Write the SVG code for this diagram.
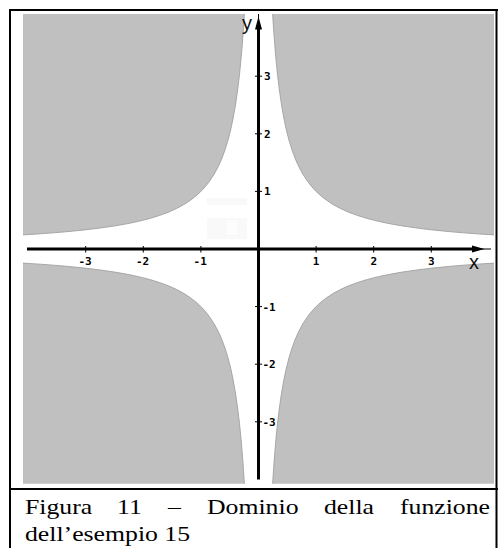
<svg xmlns="http://www.w3.org/2000/svg" width="498" height="548" viewBox="0 0 498 548">
  <style>
    .frame { stroke: #000; stroke-width: 2; fill: none; }
    .region { fill: #c0c0c0; stroke: #a0a0a0; stroke-width: 0.9; }
    .axis { stroke: #000; stroke-width: 3; fill: none; }
    .thin { stroke: #000; stroke-width: 1; fill: none; }
    .tick { stroke: #000; stroke-width: 1; }
    .tl { font-family: "DejaVu Sans Mono", "Liberation Mono", monospace; font-weight: bold; font-size: 11px; fill: #000; }
    .axl { font-family: "Liberation Sans", Arial, sans-serif; font-size: 20px; fill: #111; }
    .cap { font-family: "Liberation Serif", "Times New Roman", serif; font-size: 22px; fill: #000; }
  </style>
  <defs>
    <clipPath id="plotclip">
      <rect x="23" y="14" width="471" height="469.7"/>
    </clipPath>
    <path id="hyp" vector-effect="non-scaling-stroke" d="M0.2 5 L0.22 4.545 L0.24 4.167 L0.26 3.846 L0.28 3.571 L0.3 3.333 L0.33 3.030 L0.36 2.778 L0.4 2.5 L0.44 2.273 L0.48 2.083 L0.53 1.887 L0.58 1.724 L0.64 1.5625 L0.7 1.4286 L0.77 1.2987 L0.85 1.1765 L0.92 1.087 L1 1 L1.087 0.92 L1.1765 0.85 L1.2987 0.77 L1.4286 0.7 L1.5625 0.64 L1.724 0.58 L1.887 0.53 L2.083 0.48 L2.273 0.44 L2.5 0.4 L2.778 0.36 L3.030 0.33 L3.333 0.3 L3.571 0.28 L3.846 0.26 L4.167 0.24 L4.545 0.22 L5 0.2 L6 0.2 L6 6 L0.2 6 Z"/>
  </defs>

  <rect x="0" y="0" width="498" height="548" fill="#fff"/>

  <!-- plot: grey regions outside the domain -->
  <g id="plot" clip-path="url(#plotclip)">
    <rect x="23" y="14" width="471" height="469.7" fill="#fff"/>
    <rect x="207" y="198" width="40" height="7" fill="#f9f9f9"/>
    <rect x="207" y="218" width="40" height="21" fill="#f9f9f9"/>
    <rect x="227" y="220" width="10" height="15" fill="#fdfdfd"/>
    <g transform="translate(258.5,249) scale(57.6,-57.6)">
      <use href="#hyp" class="region"/>
      <use href="#hyp" class="region" transform="scale(-1,1)"/>
      <use href="#hyp" class="region" transform="scale(1,-1)"/>
      <use href="#hyp" class="region" transform="scale(-1,-1)"/>
    </g>
  </g>

  <!-- axes -->
  <g id="axes">
    <line class="axis" x1="27" y1="249" x2="474" y2="249"/>
    <line class="thin" x1="472" y1="249" x2="491" y2="249"/>
    <polygon points="472,245.5 484.5,249 472,252.5" fill="#000"/>
    <line class="axis" x1="258.5" y1="479.5" x2="258.5" y2="28"/>
    <line class="thin" x1="258.5" y1="30" x2="258.5" y2="14"/>
    <polygon points="255,29.5 258.5,16.5 262,29.5" fill="#000"/>
    <g id="ticks">
      <line class="tick" x1="85.7" y1="246" x2="85.7" y2="252.5"/>
      <line class="tick" x1="143.3" y1="246" x2="143.3" y2="252.5"/>
      <line class="tick" x1="200.9" y1="246" x2="200.9" y2="252.5"/>
      <line class="tick" x1="316.1" y1="246" x2="316.1" y2="252.5"/>
      <line class="tick" x1="373.7" y1="246" x2="373.7" y2="252.5"/>
      <line class="tick" x1="431.3" y1="246" x2="431.3" y2="252.5"/>
      <line class="tick" x1="255" y1="76.2" x2="262" y2="76.2"/>
      <line class="tick" x1="255" y1="133.8" x2="262" y2="133.8"/>
      <line class="tick" x1="255" y1="191.4" x2="262" y2="191.4"/>
      <line class="tick" x1="255" y1="306.6" x2="262" y2="306.6"/>
      <line class="tick" x1="255" y1="364.2" x2="262" y2="364.2"/>
      <line class="tick" x1="255" y1="421.8" x2="262" y2="421.8"/>
    </g>
    <g id="ticklabels" class="tl">
      <text x="85" y="265" text-anchor="middle">-3</text>
      <text x="142.6" y="265" text-anchor="middle">-2</text>
      <text x="200.2" y="265" text-anchor="middle">-1</text>
      <text x="316.1" y="265" text-anchor="middle">1</text>
      <text x="373.7" y="265" text-anchor="middle">2</text>
      <text x="431.3" y="265" text-anchor="middle">3</text>
      <text x="264" y="80.2">3</text>
      <text x="264" y="137.8">2</text>
      <text x="264" y="195.4">1</text>
      <text x="262.5" y="310.6">-1</text>
      <text x="262.5" y="368.2">-2</text>
      <text x="262.5" y="425.8">-3</text>
    </g>
    <text class="axl" x="242" y="29.5">y</text>
    <text class="axl" x="469" y="268.5">x</text>
  </g>

  <!-- frame -->
  <g id="frame">
    <line class="frame" x1="10" y1="9" x2="10" y2="548"/>
    <line class="frame" x1="9" y1="10" x2="498" y2="10"/>
    <line class="frame" x1="496.5" y1="9" x2="496.5" y2="548"/>
    <line class="frame" x1="9" y1="489" x2="498" y2="489"/>
  </g>

  <!-- caption -->
  <g id="caption" class="cap">
    <text transform="translate(25,514) scale(1.17,1)">Figura</text>
    <text transform="translate(117,514) scale(1.17,1)">11</text>
    <text transform="translate(168,514) scale(1.17,1)">–</text>
    <text transform="translate(207,514) scale(1.17,1)">Dominio</text>
    <text transform="translate(324,514) scale(1.17,1)">della</text>
    <text transform="translate(490,514) scale(1.17,1)" text-anchor="end">funzione</text>
    <text transform="translate(25,541) scale(1.17,1)">dell’esempio 15</text>
  </g>
</svg>
